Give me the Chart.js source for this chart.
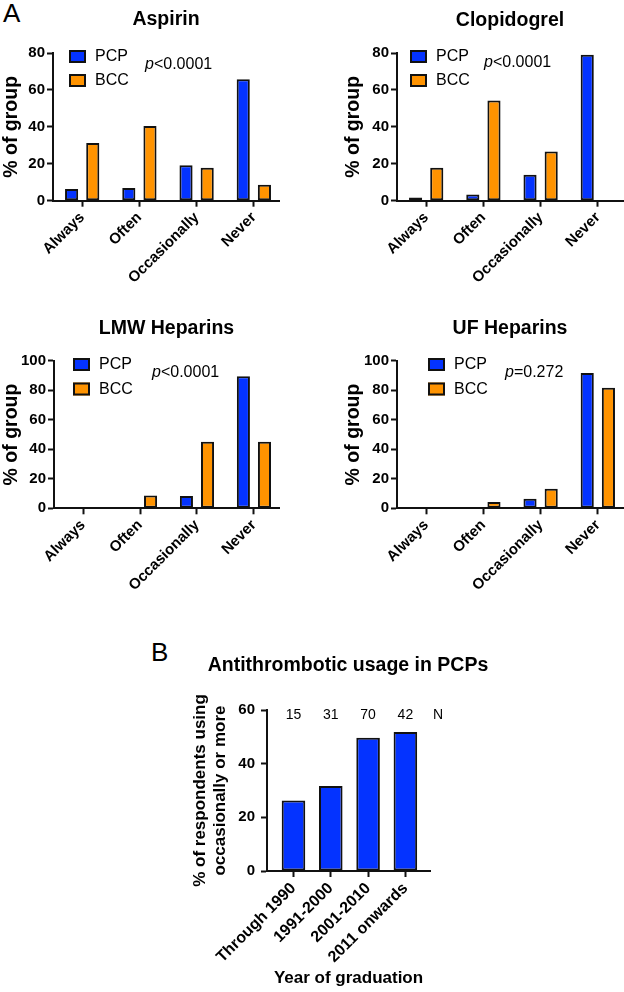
<!DOCTYPE html>
<html>
<head>
<meta charset="utf-8">
<script src="https://cdn.jsdelivr.net/npm/chart.js@4.4.1/dist/chart.umd.min.js"></script>
<style>
  html, body { margin: 0; padding: 0; background: #fff; overflow: hidden; }
  #page { position: relative; width: 624px; height: 992px; overflow: hidden; }
  canvas { position: absolute; }
  .tag { position: absolute; font: 26px 'Liberation Sans', Arial, sans-serif; line-height: 1; color: #000; }
</style>
</head>
<body>
<div id="page">
  <div class="tag" style="left:3px;top:0px">A</div>
  <div class="tag" style="left:151px;top:639px">B</div>
  <canvas id="cAspirin"></canvas>
  <canvas id="cClopidogrel"></canvas>
  <canvas id="cLmw"></canvas>
  <canvas id="cUf"></canvas>
  <canvas id="cYears"></canvas>
</div>
<script>
// panel A: how often each group prescribes, % of group
const freqLabels = ['Always', 'Often', 'Occasionally', 'Never'];
const groupNames = ['PCP', 'BCC'];

const aspirinPCP = [6.3, 6.9, 19.2, 65.8];
const aspirinBCC = [31.3, 40.4, 17.8, 8.7];
const clopidogrelPCP = [1.8, 3.3, 14.1, 79.1];
const clopidogrelBCC = [17.8, 54.3, 26.6, 0];
const lmwPCP = [0, 0.9, 8.4, 89.4];
const lmwBCC = [0, 8.6, 45.1, 45.1];
const ufPCP = [0, 0.9, 6.5, 91.7];
const ufBCC = [0, 4.3, 13.3, 81.7];

// panel B: PCPs using antithrombotics occasionally or more, by graduation year
const gradYears = ['Through 1990', '1991-2000', '2001-2010', '2011 onwards'];
const usagePCP = [26.3, 31.7, 49.7, 51.8];
const respondentsN = [15, 31, 70, 42];

const FONT = "'Liberation Sans', Arial, Helvetica, sans-serif";
const BLUE = '#0433ff';
const ORANGE = '#ff9300';
const INK = '#111111';

Chart.defaults.font.family = FONT;
Chart.defaults.color = '#000';

// legend boxes, p-values, headings and N counts (page coordinates)
const notesPlugin = {
  id: 'notes',
  afterDraw(chart, _args, o) {
    const ctx = chart.ctx;
    const ox = o.origin.left;
    const oy = o.origin.top;
    ctx.save();
    ctx.textBaseline = 'middle';
    ctx.textAlign = 'left';
    ctx.fillStyle = '#000';
    if (o.heading) {
      // the chart.js title is squeezed to the plot width, this one is not
      ctx.font = `bold 19.5px ${FONT}`;
      ctx.textAlign = 'center';
      ctx.fillText(o.heading.text, o.heading.x - ox, o.heading.y - oy);
      ctx.textAlign = 'left';
    }
    if (o.legend) {
      chart.data.datasets.forEach((ds, i) => {
        const x = o.legend.x - ox;
        const y = o.legend.y - oy + i * o.legend.gap;
        ctx.fillStyle = ds.backgroundColor;
        ctx.fillRect(x, y, 17, 13);
        ctx.lineWidth = 2;
        ctx.strokeStyle = INK;
        ctx.strokeRect(x + 1, y + 1, 15, 11);
        ctx.fillStyle = '#000';
        ctx.font = `16px ${FONT}`;
        ctx.fillText(ds.label, x + 26, y + 7);
      });
    }
    if (o.pValue) {
      const x = o.pValue.x - ox;
      const y = o.pValue.y - oy;
      ctx.font = `italic 16px ${FONT}`;
      ctx.fillText('p', x, y);
      const w = ctx.measureText('p').width;
      ctx.font = `16px ${FONT}`;
      ctx.fillText(o.pValue.text, x + w, y);
    }
    if (o.counts) {
      const xs = chart.scales.x;
      ctx.font = `14px ${FONT}`;
      ctx.textAlign = 'center';
      o.counts.values.forEach((n, i) => {
        ctx.fillText(String(n), xs.getPixelForValue(i), o.counts.y - oy);
      });
      ctx.fillText('N', o.counts.nX - ox, o.counts.y - oy);
    }
    ctx.restore();
  },
};

function toPoints(values) {
  return values.map((v, i) => ({ x: i, y: v }));
}

function buildPanel(id, g, cfg) {
  const canvas = document.getElementById(id);
  canvas.width = g.box.width;
  canvas.height = g.box.height;
  canvas.style.left = g.box.left + 'px';
  canvas.style.top = g.box.top + 'px';

  const titleLh = 19.5 * 1.2;
  const title = cfg.title
    ? {
        display: true,
        text: cfg.title,
        fullSize: false,
        font: { size: 19.5, weight: 'bold', lineHeight: 1.2 },
        padding: { top: g.titleY - g.box.top - titleLh / 2, bottom: g.area.top - g.titleY - titleLh / 2 },
      }
    : { display: false };
  const xTitle = cfg.xTitle
    ? {
        display: true,
        text: cfg.xTitle,
        font: { size: 17, weight: 'bold', lineHeight: 1.2 },
        padding: { top: 0, bottom: g.box.top + g.box.height - g.xTitleY - 17 * 0.6 },
      }
    : { display: false };

  return new Chart(canvas, {
    type: 'bar',
    data: { datasets: cfg.datasets },
    options: {
      responsive: false,
      animation: false,
      events: [],
      layout: {
        padding: {
          left: 0,
          top: cfg.title ? 0 : g.area.top - g.box.top,
          right: g.box.left + g.box.width - g.area.right,
          bottom: 0,
        },
      },
      datasets: {
        bar: {
          categoryPercentage: cfg.catPct,
          barPercentage: cfg.barPct,
          borderWidth: 2,
          borderColor: INK,
          borderSkipped: false,
        },
      },
      plugins: {
        legend: { display: false },
        tooltip: { enabled: false },
        title: title,
        notes: Object.assign({ origin: g.box }, cfg.notes),
      },
      scales: {
        x: {
          type: 'linear',
          bounds: 'data',
          min: cfg.xMin,
          max: cfg.xMax,
          offset: false,
          afterBuildTicks: (s) => {
            s.ticks = cfg.categories.map((_, i) => ({ value: i }));
          },
          afterFit: (s) => {
            s.height = g.box.top + g.box.height - g.area.bottom;
          },
          ticks: {
            autoSkip: false,
            minRotation: 45,
            maxRotation: 45,
            padding: 2,
            font: { size: cfg.xTickSize, weight: 'bold' },
            callback: (v) => cfg.categories[v],
          },
          grid: { drawOnChartArea: false, offset: false, tickLength: 6, tickWidth: 2, tickColor: INK },
          border: { color: INK, width: 2 },
          title: xTitle,
        },
        y: {
          min: 0,
          max: cfg.yMax,
          afterFit: (s) => {
            s.width = g.area.left - g.box.left;
          },
          ticks: { stepSize: 20, padding: cfg.yTickPad, font: { size: 15, weight: 'bold' } },
          grid: { drawOnChartArea: false, tickLength: 6, tickWidth: 2, tickColor: INK },
          border: { color: INK, width: 2 },
          title: {
            display: true,
            text: cfg.yTitle,
            font: { size: cfg.yTitleSize, weight: 'bold', lineHeight: cfg.yTitleLine / cfg.yTitleSize },
            padding: { top: g.yTitleX - g.box.left - cfg.yTitleLine / 2, bottom: 0 },
          },
        },
      },
    },
    plugins: [notesPlugin],
  });
}

function groupSets(pcp, bcc) {
  return [
    { label: groupNames[0], data: toPoints(pcp), backgroundColor: BLUE },
    { label: groupNames[1], data: toPoints(bcc), backgroundColor: ORANGE },
  ];
}

const panelA = {
  categories: freqLabels,
  xMin: -0.51,
  xMax: 3.44,
  catPct: 0.74,
  barPct: 0.62,
  xTickSize: 15,
  yTickPad: 2,
  yTitle: '% of group',
  yTitleSize: 19.5,
  yTitleLine: 23.4,
};

buildPanel('cAspirin',
  { box: { left: 0, top: 0, width: 312, height: 300 }, area: { left: 53, top: 53, right: 279, bottom: 200.7 }, titleY: 20, yTitleX: 12 },
  Object.assign({}, panelA, {
    title: 'Aspirin', yMax: 80, datasets: groupSets(aspirinPCP, aspirinBCC),
    notes: { legend: { x: 69, y: 50, gap: 24 }, pValue: { x: 145, y: 65, text: '<0.0001' } },
  }));

buildPanel('cClopidogrel',
  { box: { left: 330, top: 0, width: 294, height: 300 }, area: { left: 397, top: 53, right: 623, bottom: 200.7 }, titleY: 21, yTitleX: 354 },
  Object.assign({}, panelA, {
    title: 'Clopidogrel', yMax: 80, datasets: groupSets(clopidogrelPCP, clopidogrelBCC),
    notes: { legend: { x: 410, y: 50, gap: 24 }, pValue: { x: 484, y: 63, text: '<0.0001' } },
  }));

buildPanel('cLmw',
  { box: { left: 0, top: 290, width: 312, height: 320 }, area: { left: 54, top: 360.7, right: 279, bottom: 508.3 }, titleY: 329, yTitleX: 12 },
  Object.assign({}, panelA, {
    title: 'LMW Heparins', yMax: 100, datasets: groupSets(lmwPCP, lmwBCC),
    notes: { legend: { x: 73, y: 358, gap: 24.5 }, pValue: { x: 152, y: 373, text: '<0.0001' } },
  }));

buildPanel('cUf',
  { box: { left: 330, top: 290, width: 294, height: 320 }, area: { left: 397, top: 360.7, right: 623, bottom: 508.3 }, titleY: 329, yTitleX: 354 },
  Object.assign({}, panelA, {
    title: 'UF Heparins', yMax: 100, datasets: groupSets(ufPCP, ufBCC),
    notes: { legend: { x: 428, y: 358, gap: 24.5 }, pValue: { x: 505, y: 373, text: '=0.272' } },
  }));

buildPanel('cYears',
  { box: { left: 180, top: 630, width: 340, height: 362 }, area: { left: 267, top: 710, right: 430, bottom: 871 }, yTitleX: 200, xTitleY: 978 },
  {
    title: null,
    categories: gradYears,
    xMin: -0.71,
    xMax: 3.66,
    catPct: 0.8,
    barPct: 0.79,
    xTickSize: 16,
    yTickPad: 6,
    yMax: 60,
    yTitle: ['% of respondents using', 'occasionally or more'],
    yTitleSize: 17,
    yTitleLine: 20,
    xTitle: 'Year of graduation',
    datasets: [{ label: 'PCP', data: toPoints(usagePCP), backgroundColor: BLUE }],
    notes: {
      heading: { text: 'Antithrombotic usage in PCPs', x: 348, y: 666 },
      counts: { values: respondentsN, y: 715, nX: 438 },
    },
  });
</script>
</body>
</html>
